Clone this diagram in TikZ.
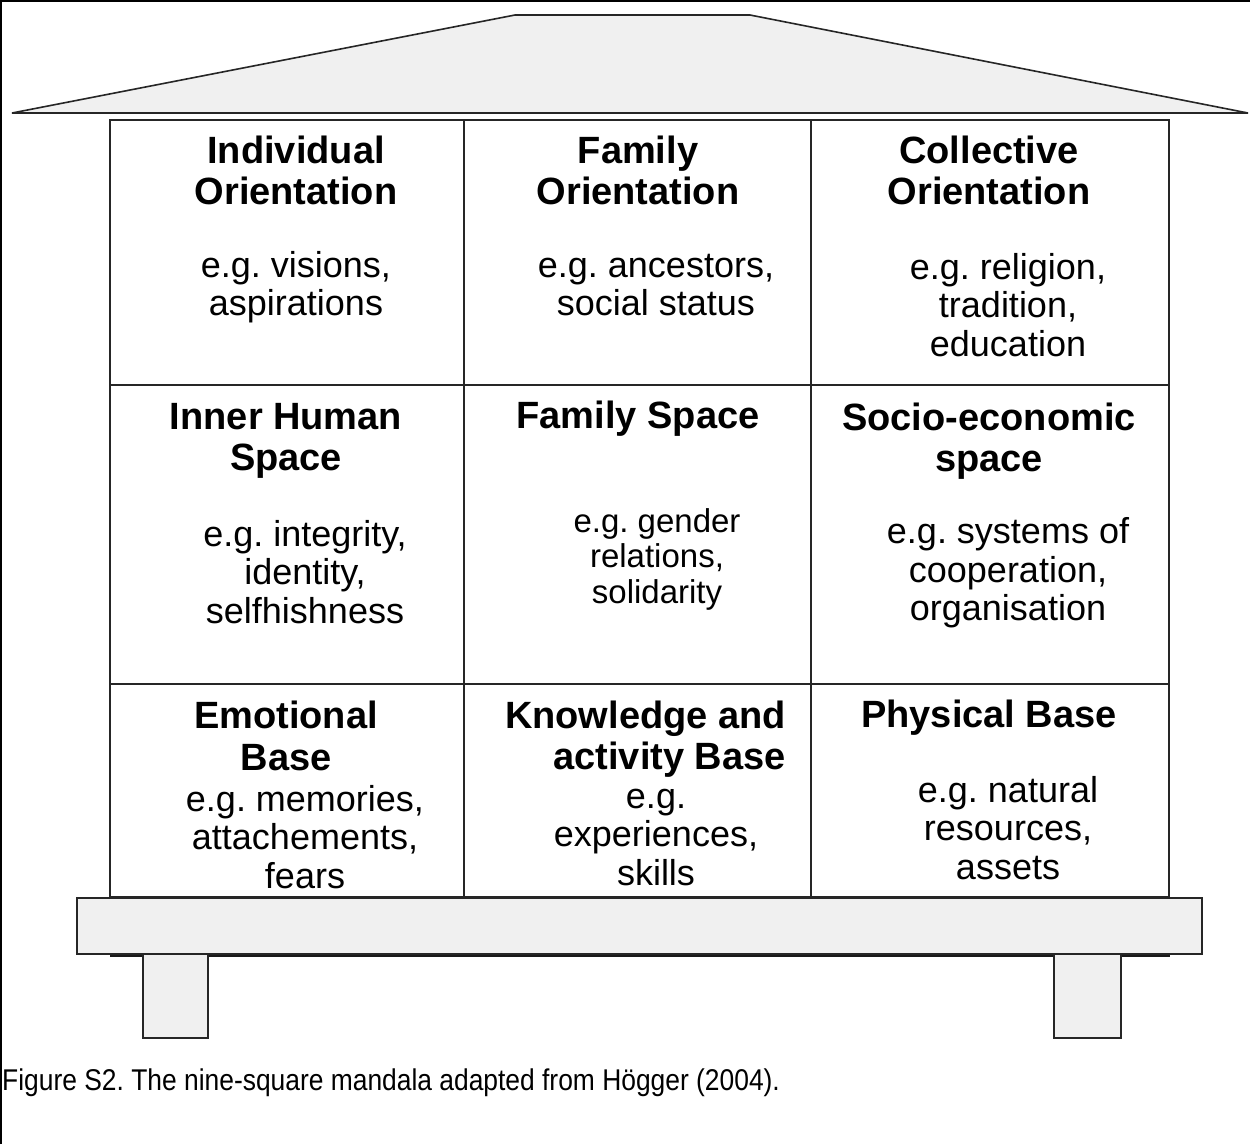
\documentclass[tikz,border=0pt]{standalone}
\usepackage{fontspec}
\setmainfont{Liberation Sans}
\usepackage{graphicx}
\frenchspacing
\begin{document}
\frenchspacing
\begin{tikzpicture}[x=1pt,y=-1pt,
  gridline/.style={draw=black!85, line width=2pt},
  housefill/.style={fill=black!6, draw=black!85, line width=1.6pt},
  title/.style={font=\frenchspacing\bfseries\fontsize{38}{41.5}\selectfont, align=center, inner sep=0pt},
  body/.style={font=\frenchspacing\fontsize{36}{38.5}\selectfont, align=center, inner sep=0pt},
  smallbody/.style={font=\frenchspacing\fontsize{33}{35.5}\selectfont, align=center, inner sep=0pt},
]
\useasboundingbox (0,0) rectangle (1250,1144);
% frame
\draw[line width=2pt, black] (1,1144) -- (1,1) -- (1250,1);
% roof
\filldraw[housefill, line join=miter] (12,113) -- (515,15) -- (750,15) -- (1248,113) -- cycle;
% grid
\draw[gridline] (110,120) rectangle (1169,897);
\draw[gridline] (464,120) -- (464,897);
\draw[gridline] (811,120) -- (811,897);
\draw[gridline] (110,385) -- (1169,385);
\draw[gridline] (110,684) -- (1169,684);
% shadow under the slab
\draw[line width=3pt, black!90] (110,955.5) -- (1170,955.5);
% slab
\filldraw[housefill] (77,898) rectangle (1202,954);
% legs
\filldraw[housefill] (143,954) rectangle (208,1038);
\filldraw[housefill] (1054,954) rectangle (1121,1038);
% row 1
\node[title] (t11) at (296,170.5) {Individual\\Orientation};
\node[body]  (b11) at (296,287) {e.g. visions,\\aspirations};
\node[title] (t12) at (638,170.5) {Family\\Orientation};
\node[body]  (b12) at (656,285) {e.g. ancestors,\\social status};
\node[title] (t13) at (989,170.5) {Collective\\Orientation};
\node[body]  (b13) at (1008,305) {e.g. religion,\\tradition,\\education};
% row 2
\node[title] (t21) at (286,441) {Inner Human\\Space};
\node[body]  (b21) at (305,572) {e.g. integrity,\\identity,\\selfhishness};
\node[title] (t22) at (638,419) {Family Space};
\node[smallbody] (b22) at (657,559) {e.g. gender\\relations,\\solidarity};
\node[title] (t23) at (989,441) {Socio-economic\\space};
\node[body]  (b23) at (1008,573) {e.g. systems of\\cooperation,\\organisation};
% row 3
\node[title] (t31) at (286,736) {Emotional\\Base};
\node[body]  (b31) at (305,837) {e.g. memories,\\attachements,\\fears};
\node[title, align=right, anchor=east] (t32) at (786,739) {Knowledge and\\activity Base};
\node[body]  (b32) at (656,837) {e.g.\\experiences,\\skills};
\node[title] (t33) at (989,718) {Physical Base};
\node[body]  (b33) at (1008,828) {e.g. natural\\resources,\\assets};
% caption
\node[anchor=west, inner sep=0pt, font=\frenchspacing\fontsize{30}{30}\selectfont] (cap) at (2,1083)
  {\scalebox{0.88}[1]{Figure S2. The nine-square mandala adapted from Högger (2004).}};
\end{tikzpicture}
\end{document}
